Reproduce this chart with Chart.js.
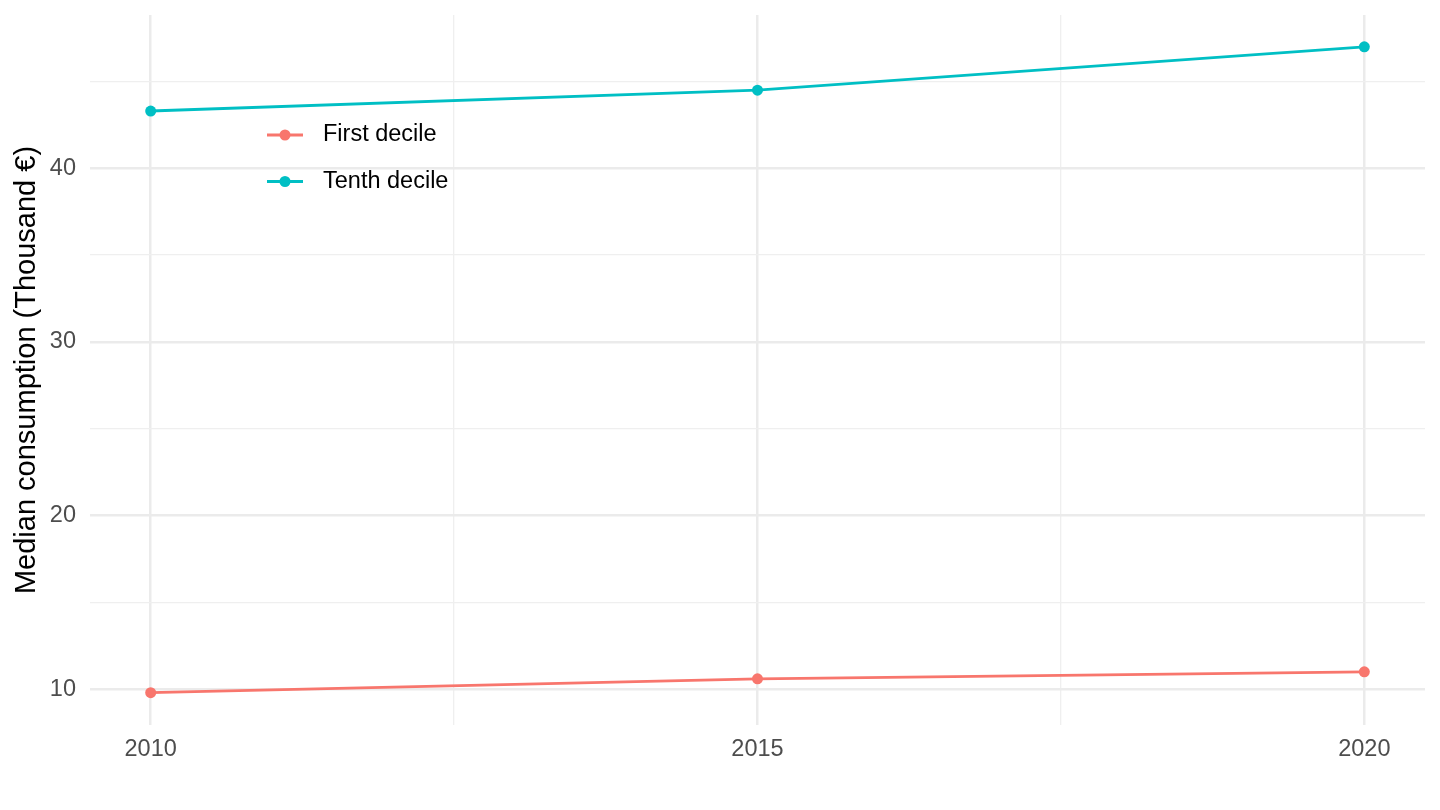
<!DOCTYPE html>
<html>
<head>
<meta charset="utf-8">
<script src="https://cdn.jsdelivr.net/npm/chart.js@4"></script>
<style>
  html, body { margin: 0; padding: 0; background: #fff; }
  #wrap { width: 1440px; height: 810px; }
</style>
</head>
<body>
<div id="wrap"><canvas id="chart" width="1440" height="810"></canvas></div>
<script>
// Données
const years = [2010, 2015, 2020];
const firstDecile = [9.8, 10.6, 11.0];
const tenthDecile = [43.3, 44.5, 47.0];
const xTicks = [2010, 2012.5, 2015, 2017.5, 2020];
const yTicks = [10, 15, 20, 25, 30, 35, 40, 45];
const seriesNames = ['First decile', 'Tenth decile'];
const seriesColors = ['#F8766D', '#00BFC4'];

const font = '"Liberation Sans", Arial, Helvetica, sans-serif';

function toPoints(vals) {
    return years.map((y, i) => ({ x: y, y: vals[i] }));
}

// légende dessinée dans la zone du graphique
const insideLegend = {
    id: 'insideLegend',
    afterDraw(chart) {
        const ctx = chart.ctx;
        ctx.save();
        seriesNames.forEach((name, i) => {
            const y = 135 + i * 46.5;
            ctx.strokeStyle = seriesColors[i];
            ctx.lineWidth = 2.8;
            ctx.beginPath();
            ctx.moveTo(267, y);
            ctx.lineTo(303, y);
            ctx.stroke();
            ctx.fillStyle = seriesColors[i];
            ctx.beginPath();
            ctx.arc(285, y, 5.5, 0, Math.PI * 2);
            ctx.fill();
            ctx.fillStyle = '#000';
            ctx.font = '23.5px ' + font;
            ctx.textBaseline = 'middle';
            ctx.fillText(name, 323, y);
        });
        ctx.restore();
    }
};

const ctx = document.getElementById('chart').getContext('2d');
new Chart(ctx, {
    type: 'line',
    data: {
        datasets: [
            {
                label: seriesNames[0],
                data: toPoints(firstDecile),
                borderColor: seriesColors[0],
                backgroundColor: seriesColors[0],
                borderWidth: 2.8,
                pointRadius: 5.5,
                pointHoverRadius: 5.5,
                pointBorderWidth: 0
            },
            {
                label: seriesNames[1],
                data: toPoints(tenthDecile),
                borderColor: seriesColors[1],
                backgroundColor: seriesColors[1],
                borderWidth: 2.8,
                pointRadius: 5.5,
                pointHoverRadius: 5.5,
                pointBorderWidth: 0
            }
        ]
    },
    options: {
        responsive: false,
        animation: false,
        layout: { padding: { top: 15, right: 15, left: 0, bottom: 0 } },
        plugins: {
            legend: { display: false },
            tooltip: { enabled: false }
        },
        scales: {
            x: {
                type: 'linear',
                min: 2009.5,
                max: 2020.5,
                afterBuildTicks: s => { s.ticks = xTicks.map(v => ({ value: v })); },
                afterFit: s => { s.height = 85; s.paddingLeft = 0; s.paddingRight = 0; },
                border: { display: false },
                grid: {
                    drawTicks: false,
                    color: c => (c.tick && c.tick.value % 5 === 0) ? '#ebebeb' : '#efefef',
                    lineWidth: c => (c.tick && c.tick.value % 5 === 0) ? 2.5 : 1.3
                },
                ticks: {
                    autoSkip: false,
                    maxRotation: 0,
                    padding: 10,
                    color: '#4d4d4d',
                    font: { family: font, size: 23.5 },
                    callback: v => (v % 5 === 0 ? String(v) : '')
                }
            },
            y: {
                min: 7.94,
                max: 48.83,
                afterBuildTicks: s => { s.ticks = yTicks.map(v => ({ value: v })); },
                afterFit: s => { s.width = 90; s.paddingTop = 0; s.paddingBottom = 0; },
                border: { display: false },
                grid: {
                    drawTicks: false,
                    color: c => (c.tick && c.tick.value % 10 === 0) ? '#ebebeb' : '#efefef',
                    lineWidth: c => (c.tick && c.tick.value % 10 === 0) ? 2.5 : 1.3
                },
                ticks: {
                    padding: 14,
                    color: '#4d4d4d',
                    font: { family: font, size: 23.5 },
                    callback: v => (v % 10 === 0 ? String(v) : '')
                },
                title: {
                    display: true,
                    text: 'Median consumption (Thousand €)',
                    color: '#000',
                    font: { family: font, size: 29 },
                    padding: { top: 10, bottom: 0 }
                }
            }
        }
    },
    plugins: [insideLegend]
});
</script>
</body>
</html>
